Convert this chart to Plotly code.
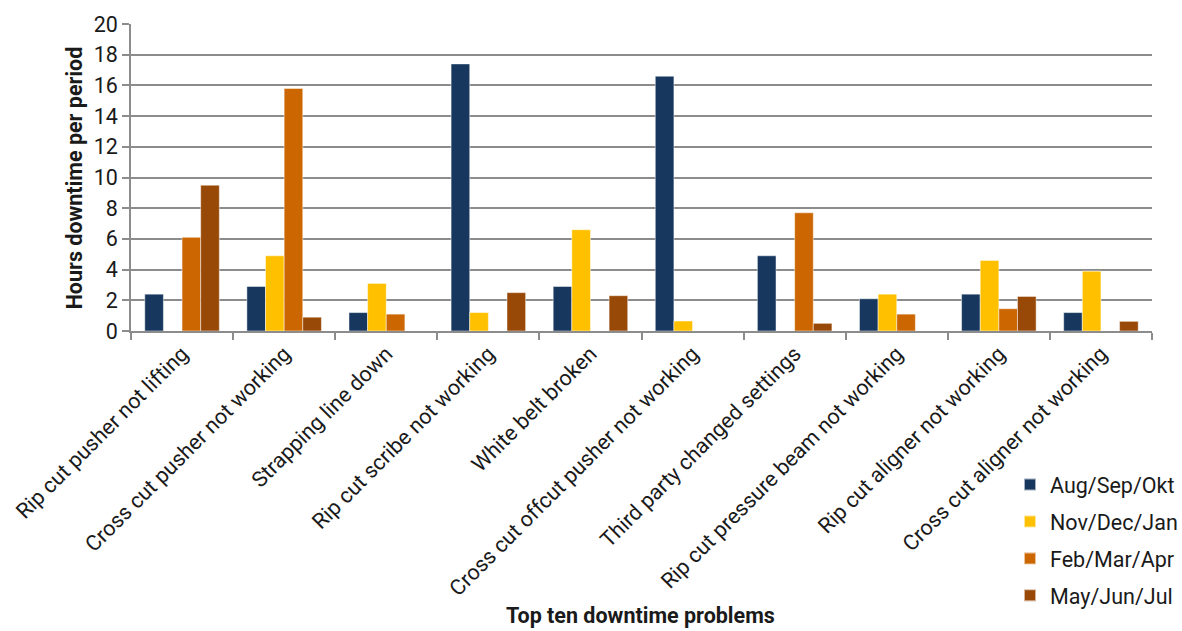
import plotly.graph_objects as go

categories = [
    "Rip cut pusher not lifting",
    "Cross cut pusher not working",
    "Strapping line down",
    "Rip cut scribe not working",
    "White belt broken",
    "Cross cut offcut pusher not working",
    "Third party changed settings",
    "Rip cut pressure beam not working",
    "Rip cut aligner not working",
    "Cross cut aligner not working",
]

aug_sep_okt = [2.4, 2.9, 1.2, 17.4, 2.9, 16.6, 4.9, 2.1, 2.4, 1.2]
nov_dec_jan = [None, 4.9, 3.1, 1.2, 6.6, 0.65, None, 2.4, 4.6, 3.9]
feb_mar_apr = [6.1, 15.8, 1.1, None, None, None, 7.7, 1.1, 1.45, None]
may_jun_jul = [9.5, 0.9, None, 2.5, 2.3, None, 0.5, None, 2.25, 0.63]

series = [
    ("Aug/Sep/Okt", aug_sep_okt, "#17375E"),
    ("Nov/Dec/Jan", nov_dec_jan, "#FFC000"),
    ("Feb/Mar/Apr", feb_mar_apr, "#CC6600"),
    ("May/Jun/Jul", may_jun_jul, "#984807"),
]

font_family = "Roboto, Arial, sans-serif"
text_color = "#1a1a1a"
grid_color = "#8c8c8c"
fsize = 21.5

fig = go.Figure()
for name, values, color in series:
    fig.add_trace(go.Bar(
        name=name,
        legendgroup=name,
        x=categories,
        y=values,
        marker=dict(color=color, line=dict(color="rgba(255,255,255,0.6)", width=0.8)),
    ))

fig.update_layout(
    width=1182,
    height=631,
    barmode="group",
    bargap=0.27,
    bargroupgap=0,
    plot_bgcolor="white",
    paper_bgcolor="white",
    margin=dict(l=131, r=30, t=24, b=300, autoexpand=False),
    font=dict(family=font_family, color=text_color, size=fsize),
    legend=dict(
        xref="container", yref="container",
        x=1010 / 1182, xanchor="left",
        y=1 - 464 / 631, yanchor="top",
        font=dict(size=fsize, family=font_family, color=text_color),
        traceorder="grouped",
        tracegroupgap=6,
        itemsizing="constant",
        bgcolor="rgba(0,0,0,0)",
    ),
    xaxis=dict(
        automargin=False,
        tickangle=-45,
        tickson="boundaries",
        ticks="outside",
        ticklen=7,
        tickcolor=grid_color,
        tickwidth=1.5,
        showline=True,
        linecolor=grid_color,
        linewidth=1.5,
        tickfont=dict(size=fsize, family=font_family, color=text_color),
        showgrid=False,
    ),
    yaxis=dict(
        automargin=False,
        range=[0, 20],
        dtick=2,
        ticks="outside",
        ticklen=7,
        tickcolor=grid_color,
        tickwidth=1.5,
        showline=True,
        linecolor=grid_color,
        linewidth=1.5,
        showgrid=True,
        gridcolor=grid_color,
        gridwidth=1.5,
        zeroline=False,
        tickfont=dict(size=fsize, family=font_family, color=text_color),
    ),
)

fig.add_annotation(
    text="<b>Hours downtime per period</b>",
    xref="paper", yref="paper",
    x=-0.055, y=0.5,
    xanchor="center", yanchor="middle",
    textangle=-90,
    showarrow=False,
    font=dict(size=fsize, family=font_family, color=text_color),
)
fig.add_annotation(
    text="<b>Top ten downtime problems</b>",
    xref="paper", yref="paper",
    x=0.499, y=-0.928,
    xanchor="center", yanchor="middle",
    showarrow=False,
    font=dict(size=fsize, family=font_family, color=text_color),
)

fig.write_html("out.html")
